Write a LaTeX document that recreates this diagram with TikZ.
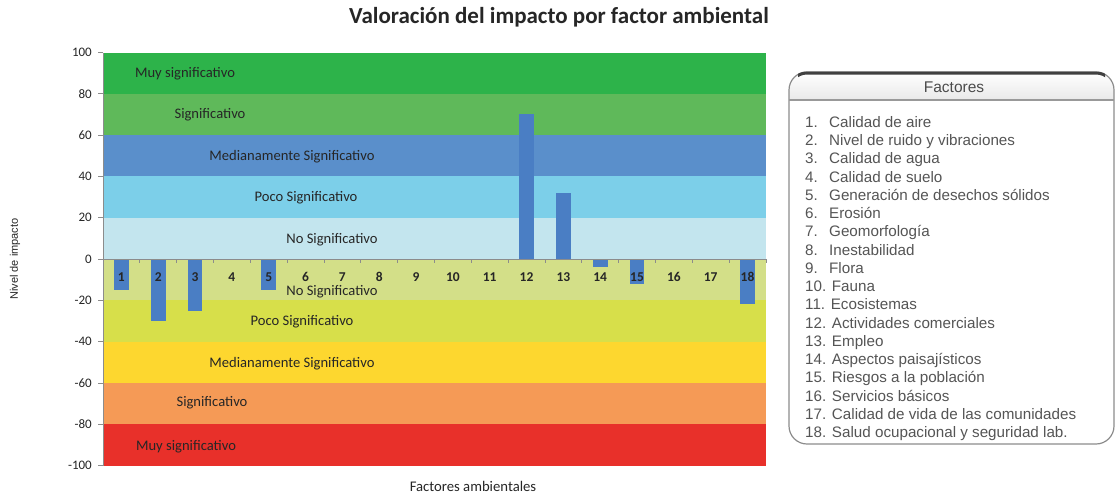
\documentclass[tikz,border=0pt]{standalone}
\usepackage{fontspec}
\setmainfont{Carlito}
\newfontfamily\arialf{Liberation Sans}
\definecolor{bandA}{HTML}{2DB34A}
\definecolor{bandB}{HTML}{5FB95A}
\definecolor{bandC}{HTML}{5A8FCB}
\definecolor{bandD}{HTML}{7CCFE9}
\definecolor{bandE}{HTML}{C3E5EE}
\definecolor{bandF}{HTML}{D3DF88}
\definecolor{bandG}{HTML}{D7DF4A}
\definecolor{bandH}{HTML}{FDD72F}
\definecolor{bandI}{HTML}{F59A56}
\definecolor{bandJ}{HTML}{E8302A}
\definecolor{barblue}{HTML}{4A7EC4}
\definecolor{axisgray}{HTML}{8C8C8C}
\definecolor{txtdark}{HTML}{262626}
\definecolor{leggray}{HTML}{555555}
\begin{document}
\begin{tikzpicture}[x=1pt,y=-1pt,
  bandlbl/.style={font=\fontsize{14.6}{14.6}\selectfont, text=txtdark, inner sep=0pt},
  catlbl/.style={font=\fontsize{13.5}{13.5}\selectfont\bfseries, text=txtdark, inner sep=0pt},
  ticklbl/.style={font=\fontsize{13}{13}\selectfont, text=txtdark, anchor=east, inner sep=0pt},
  legitem/.style={font=\arialf\fontsize{15.2}{15.2}\selectfont, text=leggray, anchor=base west, inner sep=0pt},
  axisln/.style={draw=axisgray, line width=0.8pt}]
\useasboundingbox (0,0) rectangle (1116,496);
\fill[white] (0,0) rectangle (1116,496);
% title
\node[font=\fontsize{23}{23}\selectfont\bfseries, text=txtdark, inner sep=0pt] (title) at (559,17) {Valoración del impacto por factor ambiental};
% bands
\foreach \top/\bot/\col in {100/80/bandA,80/60/bandB,60/40/bandC,40/20/bandD,20/0/bandE,0/-20/bandF,-20/-40/bandG,-40/-60/bandH,-60/-80/bandI,-80/-100/bandJ}{
  \fill[\col] (103,{259-2.065*\top}) rectangle (766,{259-2.065*\bot});
}
% band labels
\node[bandlbl] (p1) at (185,74) {Muy significativo};
\node[bandlbl] (p2) at (210,115) {Significativo};
\node[bandlbl] (p3) at (292,157) {Medianamente Significativo};
\node[bandlbl] (p4) at (306,198) {Poco Significativo};
\node[bandlbl] (p5) at (332,240) {No Significativo};
\node[bandlbl] (n1) at (332,292) {No Significativo};
\node[bandlbl] (n2) at (302,322) {Poco Significativo};
\node[bandlbl] (n3) at (292,364) {Medianamente Significativo};
\node[bandlbl] (n4) at (212,403) {Significativo};
\node[bandlbl] (n5) at (186,447) {Muy significativo};
% bars
\foreach \i/\v in {1/-15,2/-30,3/-25,4/-0.6,5/-15,6/-0.6,7/-0.6,8/-0.6,9/-0.6,10/-0.6,11/-0.6,12/70,13/32,14/-4,15/-12,16/-0.6,17/-0.6,18/-22}{
  \fill[barblue] ({103+36.83*(\i-0.5)-7.4},259) rectangle ({103+36.83*(\i-0.5)+7.4},{259-2.065*\v});
}
% axes
\draw[axisln] (103,259) -- (766,259);
\foreach \k in {0,...,18}{
  \draw[axisln] ({103+36.83*\k},259) -- ({103+36.83*\k},263);
}
\draw[axisln] (103,53) -- (103,466);
\foreach \t in {100,80,60,40,20,0,-20,-40,-60,-80,-100}{
  \draw[axisln] (98,{259-2.065*\t}) -- (103,{259-2.065*\t});
  \node[ticklbl] (y\t) at (92,{259-2.065*\t}) {\t};
}
% category labels
\foreach \i in {1,...,18}{
  \node[catlbl] (c\i) at ({103+36.83*(\i-0.5)},277) {\i};
}
% axis titles
\node[font=\arialf\fontsize{11}{11}\selectfont, text=txtdark, rotate=90, inner sep=0pt] (ytitle) at (15,259) {Nivel de impacto};
\node[font=\fontsize{14.7}{14.7}\selectfont, text=txtdark, inner sep=0pt] (xtitle) at (473,486) {Factores ambientales};
% legend box
\begin{scope}
  \clip (780,60) rectangle (1116,100);
  \shade[top color=white, bottom color=black!18, rounded corners=18] (789,72) rectangle (1114,130);
\end{scope}
\draw[draw=black!45, line width=1.2pt, rounded corners=18] (789,72) rectangle (1114,444);
\begin{scope}
  \clip (798,60) rectangle (1105,77);
  \draw[draw=black!75, line width=3pt, rounded corners=18] (789,73) rectangle (1114,444);
\end{scope}
\draw[draw=black!40, line width=1.5pt] (789,100) -- (1114,100);
\node[font=\arialf\fontsize{15.5}{15.5}\selectfont, text=black!70, inner sep=0pt] (lhead) at (954,87) {Factores};
\foreach \i/\t in {1/Calidad de aire,2/Nivel de ruido y vibraciones,3/Calidad de agua,4/Calidad de suelo,5/Generación de desechos sólidos,6/Erosión,7/Geomorfología,8/Inestabilidad,9/Flora}{
  \node[legitem] (ln\i) at (805,{127.5+18.24*(\i-1)}) {\i.};
  \node[legitem] (lt\i) at (829,{127.5+18.24*(\i-1)}) {\t};
}
\foreach \i/\t in {10/Fauna,11/Ecosistemas,12/Actividades comerciales,13/Empleo,14/Aspectos paisajísticos,15/Riesgos a la población,16/Servicios básicos,17/Calidad de vida de las comunidades,18/Salud ocupacional y seguridad lab.}{
  \node[legitem] (lt\i) at (805,{127.5+18.24*(\i-1)}) {\i. \t};
}
\end{tikzpicture}
\end{document}
